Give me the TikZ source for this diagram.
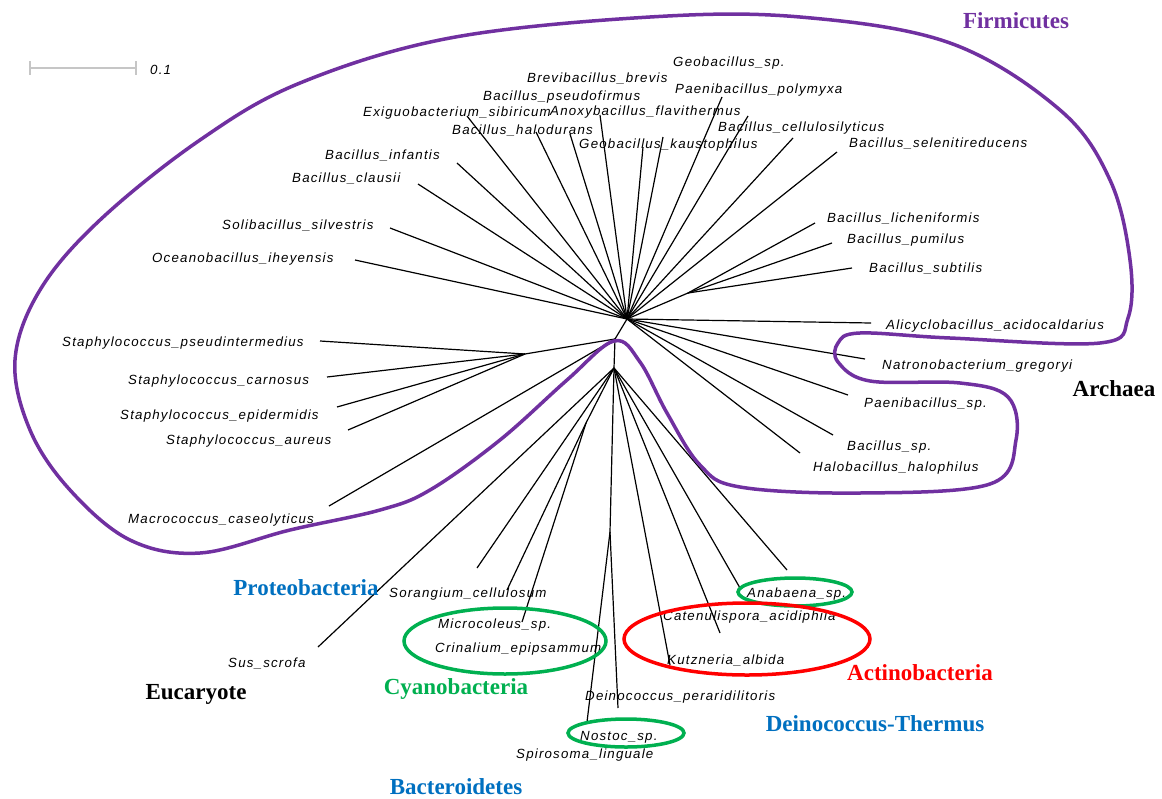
\documentclass[tikz,border=0pt]{standalone}
\usepackage{fontspec}
\setmainfont{Liberation Serif}
\newfontfamily\spfont{Liberation Sans}[LetterSpace=9]
\definecolor{firm}{RGB}{112,48,160}
\definecolor{phyblue}{RGB}{0,112,192}
\definecolor{phygreen}{RGB}{0,176,80}
\definecolor{phyred}{RGB}{255,0,0}
\begin{document}
\begin{tikzpicture}[x=1pt,y=-1pt,
  sp/.style={anchor=west,inner sep=0pt,font=\spfont\itshape\fontsize{13.3}{15}\selectfont},
  grp/.style={inner sep=0pt,font=\bfseries\fontsize{23}{26}\selectfont},
  br/.style={line width=1.2pt},
  ring/.style={line width=3.5pt}]
\fill[white] (0,0) rectangle (1162,798);
\useasboundingbox (0,0) rectangle (1162,798);

\draw[gray!45,line width=1.5pt] (30,68) -- (136,68);
\draw[gray!45,line width=1.5pt] (30,61) -- (30,75);
\draw[gray!45,line width=1.5pt] (136,61) -- (136,75);
\node[sp] (bar) at (150,70) {0.1};

\coordinate (hub) at (627,319);
\coordinate (n2) at (615,339);
\coordinate (n3) at (614,368);
\coordinate (n4) at (610,532);
\coordinate (bsub) at (688,293);
\coordinate (staph) at (525,354);
\coordinate (cyano) at (586,423);

\coordinate (t-oce) at (355,260);
\coordinate (t-sol) at (390,228);
\coordinate (t-cla) at (418,184);
\coordinate (t-inf) at (457,163);
\coordinate (t-exi) at (467,116);
\coordinate (t-hal) at (536,132);
\coordinate (t-pse) at (570,134);
\coordinate (t-bre) at (600,115);
\coordinate (t-kau) at (643,147);
\coordinate (t-geo) at (663,137);
\coordinate (t-pol) at (722,97);
\coordinate (t-ano) at (748,116);
\coordinate (t-cel) at (793,138);
\coordinate (t-sel) at (837,152);
\coordinate (t-lic) at (815,223);
\coordinate (t-pum) at (832,243);
\coordinate (t-sub) at (852,268);
\coordinate (t-ali) at (871,323);
\coordinate (t-nat) at (865,359);
\coordinate (t-pae) at (848,395);
\coordinate (t-bsp) at (833,435);
\coordinate (t-hlo) at (800,453);
\coordinate (t-psi) at (320,341);
\coordinate (t-car) at (327,377);
\coordinate (t-epi) at (337,407);
\coordinate (t-aur) at (348,430);
\coordinate (t-mac) at (329,506);
\coordinate (t-sus) at (318,647);
\coordinate (t-sor) at (477,568);
\coordinate (t-mic) at (507,590);
\coordinate (t-cri) at (522,622);
\coordinate (t-nos) at (587,722);
\coordinate (t-dei) at (618,708);
\coordinate (t-kut) at (670,665);
\coordinate (t-cat) at (720,633);
\coordinate (t-ana) at (740,588);
\coordinate (t-spi) at (787,570);

\draw[br] (hub) -- (t-oce);
\draw[br] (hub) -- (t-sol);
\draw[br] (hub) -- (t-cla);
\draw[br] (hub) -- (t-inf);
\draw[br] (hub) -- (t-exi);
\draw[br] (hub) -- (t-hal);
\draw[br] (hub) -- (t-pse);
\draw[br] (hub) -- (t-bre);
\draw[br] (hub) -- (t-kau);
\draw[br] (hub) -- (t-geo);
\draw[br] (hub) -- (t-pol);
\draw[br] (hub) -- (t-ano);
\draw[br] (hub) -- (t-cel);
\draw[br] (hub) -- (t-sel);
\draw[br] (hub) -- (bsub);
\draw[br] (bsub) -- (t-lic);
\draw[br] (bsub) -- (t-pum);
\draw[br] (bsub) -- (t-sub);
\draw[br] (hub) -- (t-ali);
\draw[br] (hub) -- (t-nat);
\draw[br] (hub) -- (t-pae);
\draw[br] (hub) -- (t-bsp);
\draw[br] (hub) -- (t-hlo);
\draw[br] (hub) -- (n2);
\draw[br] (n2) -- (staph);
\draw[br] (staph) -- (t-psi);
\draw[br] (staph) -- (t-car);
\draw[br] (staph) -- (t-epi);
\draw[br] (staph) -- (t-aur);
\draw[br] (n2) -- (t-mac);
\draw[br] (n2) -- (n3);
\draw[br] (n3) -- (t-sus);
\draw[br] (n3) -- (t-sor);
\draw[br] (n3) -- (cyano);
\draw[br] (cyano) -- (t-mic);
\draw[br] (cyano) -- (t-cri);
\draw[br] (n3) -- (n4);
\draw[br] (n4) -- (t-nos);
\draw[br] (n4) -- (t-dei);
\draw[br] (n3) -- (t-kut);
\draw[br] (n3) -- (t-cat);
\draw[br] (n3) -- (t-ana);
\draw[br] (n3) -- (t-spi);

\node[sp] (geo) at (673,63) {Geobacillus\_sp.};
\node[sp] (bre) at (527,78) {Brevibacillus\_brevis};
\node[sp] (pol) at (675,90) {Paenibacillus\_polymyxa};
\node[sp] (pse) at (483,97) {Bacillus\_pseudofirmus};
\node[sp] (exi) at (363,113) {Exiguobacterium\_sibiricum};
\node[sp] (ano) at (550,112) {Anoxybacillus\_flavithermus};
\node[sp] (hal) at (452,130) {Bacillus\_halodurans};
\node[sp] (cel) at (718,128) {Bacillus\_cellulosilyticus};
\node[sp] (kau) at (579,145) {Geobacillus\_kaustophilus};
\node[sp] (sel) at (849,143) {Bacillus\_selenitireducens};
\node[sp] (inf) at (325,155) {Bacillus\_infantis};
\node[sp] (cla) at (292,178) {Bacillus\_clausii};
\node[sp] (lic) at (827,218) {Bacillus\_licheniformis};
\node[sp] (sol) at (222,225) {Solibacillus\_silvestris};
\node[sp] (pum) at (847,240) {Bacillus\_pumilus};
\node[sp] (oce) at (152,259) {Oceanobacillus\_iheyensis};
\node[sp] (sub) at (869,268) {Bacillus\_subtilis};
\node[sp] (ali) at (886,326) {Alicyclobacillus\_acidocaldarius};
\node[sp] (nat) at (882,366) {Natronobacterium\_gregoryi};
\node[sp] (pae) at (864,404) {Paenibacillus\_sp.};
\node[sp] (bsp) at (847,447) {Bacillus\_sp.};
\node[sp] (hlo) at (813,468) {Halobacillus\_halophilus};
\node[sp] (psi) at (62,343) {Staphylococcus\_pseudintermedius};
\node[sp] (car) at (128,381) {Staphylococcus\_carnosus};
\node[sp] (epi) at (120,416) {Staphylococcus\_epidermidis};
\node[sp] (aur) at (166,441) {Staphylococcus\_aureus};
\node[sp] (mac) at (128,520) {Macrococcus\_caseolyticus};
\node[sp] (sor) at (389,594) {Sorangium\_cellulosum};
\node[sp] (mic) at (438,625) {Microcoleus\_sp.};
\node[sp] (cri) at (435,649) {Crinalium\_epipsammum};
\node[sp] (sus) at (228,663) {Sus\_scrofa};
\node[sp] (ana) at (747,594) {Anabaena\_sp.};
\node[sp] (cat) at (663,617) {Catenulispora\_acidiphila};
\node[sp] (kut) at (667,660) {Kutzneria\_albida};
\node[sp] (dei) at (585,697) {Deinococcus\_peraridilitoris};
\node[sp] (nos) at (580,737) {Nostoc\_sp.};
\node[sp] (spi) at (516,755) {Spirosoma\_linguale};

\draw[ring,firm] plot[smooth cycle,tension=0.6] coordinates {
  (614,341) (640,362) (667,413) (700,465) (740,487) (860,493) (990,484)
  (1016,440) (1008,397) (960,383) (870,381) (838,362) (838,343) (860,333)
  (950,338) (1100,343) (1128,318) (1130,260) (1110,180) (1060,110)
  (950,43) (800,17) (650,17) (450,38) (300,83) (200,140) (100,220)
  (40,290) (15,360) (30,430) (70,490) (130,540) (200,553) (290,530)
  (380,510) (430,490) (500,440) (567,380)};
\draw[ring,phygreen] (505,641) ellipse [x radius=101,y radius=33];
\draw[ring,phygreen] (795,592) ellipse [x radius=57,y radius=14];
\draw[ring,phygreen] (626,733) ellipse [x radius=58,y radius=14];
\draw[ring,phyred] (747,639) ellipse [x radius=123,y radius=36];

\node[grp,text=firm] (g-firm) at (1016,21) {Firmicutes};
\node[grp] (g-arch) at (1114,389) {Archaea};
\node[grp,text=phyblue] (g-prot) at (306,588) {Proteobacteria};
\node[grp,text=phygreen] (g-cyan) at (456,689) {Cyanobacteria};
\node[grp] (g-euc) at (196,694) {Eucaryote};
\node[grp,text=phyred] (g-act) at (920,673) {Actinobacteria};
\node[grp,text=phyblue] (g-dein) at (875,724) {Deinococcus-Thermus};
\node[grp,text=phyblue] (g-bact) at (456,787) {Bacteroidetes};
\end{tikzpicture}
\end{document}
